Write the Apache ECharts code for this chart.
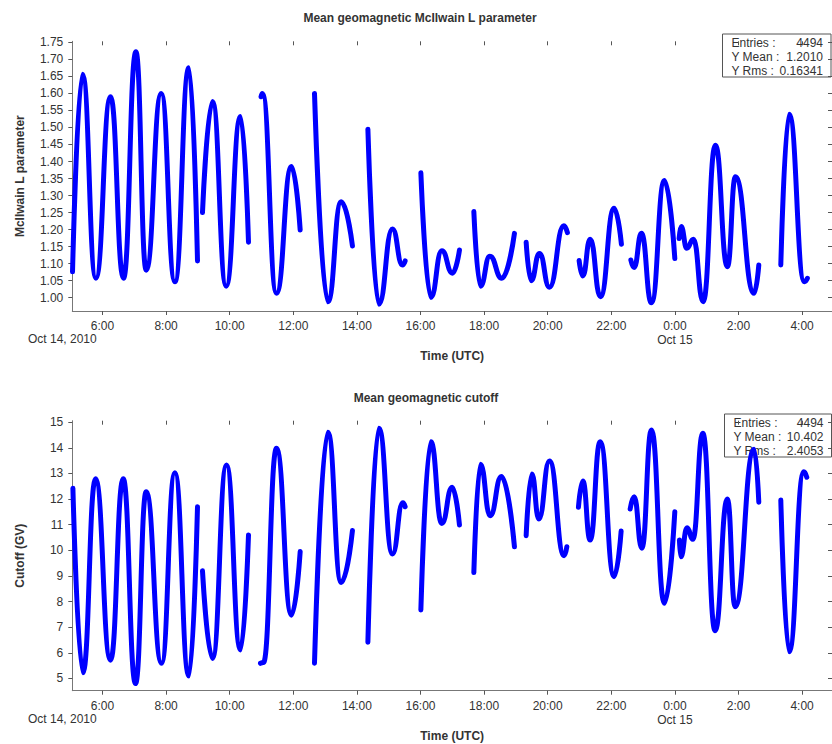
<!DOCTYPE html>
<html><head><meta charset="utf-8">
<script src="https://cdn.jsdelivr.net/npm/echarts@6/dist/echarts.min.js"></script>
<style>html,body{margin:0;padding:0;background:#fff}#c{width:832px;height:744px}</style>
</head><body><div id="c"></div>
<script>
const FONT = '"Liberation Sans", Arial, sans-serif';

// tick positions (hours since Oct 14, 2010 00:00 UTC)
const hourTicks = [6, 8, 10, 12, 14, 16, 18, 20, 22, 24, 26, 28];
const lTicks = [1.00, 1.05, 1.10, 1.15, 1.20, 1.25, 1.30, 1.35, 1.40, 1.45, 1.50, 1.55, 1.60, 1.65, 1.70, 1.75];
const cutTicks = [5, 6, 7, 8, 9, 10, 11, 12, 13, 14, 15];

// Mean McIlwain L parameter (null = data gap)
const lTimes = [
  5.057, 5.371, 5.792, 6.252, 6.660, 7.050, 7.374, 7.846, 8.276, 8.717, 8.987, null,
  9.144, 9.459, 9.889, 10.339, 10.591, null,
  10.985, 11.03, 11.471, 11.942, 12.216, null,
  12.666, 13.087, 13.505, 13.860, null,
  14.345, 14.690, 15.118, 15.433, 15.517, null,
  16.011, 16.325, 16.671, 17.005, 17.225, null,
  17.677, 17.885, 18.180, 18.558, 18.954, null,
  19.322, 19.479, 19.740, 20.054, 20.507, 20.620, null,
  20.988, 21.105, 21.334, 21.658, 22.089, 22.318, null,
  22.614, 22.718, 22.947, 23.262, 23.670, 23.997, null,
  24.132, 24.195, 24.374, 24.582, 24.887, 25.274, 25.651, 25.903, 26.491, 26.638, null,
  27.330, 27.591, 28.072, 28.166
];
const lValues = [
  1.076, 1.656, 1.057, 1.590, 1.057, 1.722, 1.081, 1.600, 1.047, 1.675, 1.108, null,
  1.250, 1.576, 1.034, 1.532, 1.163, null,
  1.590, 1.600, 1.013, 1.385, 1.199, null,
  1.600, 0.988, 1.282, 1.152, null,
  1.495, 0.981, 1.202, 1.096, 1.108, null,
  1.367, 1.001, 1.138, 1.072, 1.140, null,
  1.253, 1.034, 1.122, 1.057, 1.189, null,
  1.163, 1.050, 1.130, 1.031, 1.211, 1.191, null,
  1.109, 1.064, 1.172, 1.003, 1.263, 1.157, null,
  1.111, 1.089, 1.189, 0.985, 1.344, 1.115, null,
  1.174, 1.209, 1.145, 1.172, 0.988, 1.448, 1.091, 1.355, 1.013, 1.096, null,
  1.096, 1.539, 1.047, 1.057
];

// Mean geomagnetic cutoff (GV) (null = data gap)
const cutTimes = [
  5.069, 5.384, 5.780, 6.252, 6.651, 7.038, 7.374, 7.855, 8.276, 8.717, 8.987, null,
  9.144, 9.459, 9.899, 10.339, 10.591, null,
  10.968, 11.062, 11.471, 11.942, 12.216, null,
  12.666, 13.087, 13.505, 13.860, null,
  14.345, 14.690, 15.118, 15.445, 15.517, null,
  16.011, 16.325, 16.671, 16.995, 17.225, null,
  17.677, 17.885, 18.190, 18.545, 18.954, null,
  19.322, 19.501, 19.721, 20.054, 20.517, 20.602, null,
  20.966, 21.105, 21.334, 21.649, 22.089, 22.309, null,
  22.592, 22.718, 22.960, 23.262, 23.670, 23.997, null,
  24.142, 24.186, 24.384, 24.563, 24.877, 25.264, 25.651, 25.893, 26.491, 26.638, null,
  27.330, 27.591, 28.053, 28.148
];
const cutValues = [
  12.42, 5.22, 12.79, 5.71, 12.79, 4.80, 12.29, 5.59, 13.03, 5.09, 11.70, null,
  9.20, 5.78, 13.33, 6.11, 10.60, null,
  5.59, 5.62, 13.98, 7.47, 9.95, null,
  5.59, 14.61, 8.74, 10.77, null,
  6.41, 14.77, 9.86, 11.86, 11.70, null,
  7.67, 14.24, 11.05, 12.46, 10.99, null,
  9.13, 13.36, 11.35, 12.88, 10.14, null,
  10.57, 12.98, 11.22, 13.49, 9.79, 10.14, null,
  11.68, 12.71, 10.40, 14.24, 8.97, 10.75, null,
  11.61, 12.09, 10.08, 14.70, 7.93, 11.51, null,
  10.40, 9.75, 10.88, 10.43, 14.57, 6.86, 12.00, 7.80, 13.95, 11.88, null,
  11.96, 6.04, 13.07, 12.85
];

const statLabels = ['Entries :', 'Y Mean :', 'Y Rms :'];
const lStats = ['4494', '1.2010', '0.16341'];
const cutStats = ['4494', '10.402', '2.4053'];

const X_MIN = 5.05, X_MAX = 28.94;

function segSeries(times, values, gi) {
  const out = [];
  let cur = [];
  const push = () => {
    if (cur.length) {
      out.push({
        type: 'line', xAxisIndex: gi * 2, yAxisIndex: gi * 2, data: cur,
        smooth: 0.5, smoothMonotone: 'x', symbol: 'none', showSymbol: false,
        lineStyle: { color: '#0000ff', width: 5, cap: 'round', join: 'round' },
        silent: true, animation: false, z: 3
      });
    }
    cur = [];
  };
  for (let i = 0; i < times.length; i++) {
    if (times[i] === null || values[i] === null) push();
    else cur.push([times[i], values[i]]);
  }
  push();
  return out;
}

function hourLabel(v) {
  const h = Math.round(v) % 24;
  if (Math.round(v) === 24) return h + ':00\nOct 15';
  return h + ':00';
}

function xAxes(gi) {
  return [{
    type: 'value', gridIndex: gi, min: X_MIN, max: X_MAX,
    axisLine: { onZero: false, lineStyle: { color: '#777', width: 1 } },
    axisTick: { customValues: hourTicks, length: 4, lineStyle: { color: '#555' } },
    axisLabel: { customValues: hourTicks, formatter: hourLabel, color: '#333', fontSize: 12, fontFamily: FONT, margin: 8, lineHeight: 14 },
    splitLine: { show: false },
    name: 'Time (UTC)', nameLocation: 'middle', nameGap: 39,
    nameTextStyle: { fontWeight: 'bold', fontSize: 12, color: '#333', fontFamily: FONT }
  }, {
    type: 'value', gridIndex: gi, min: X_MIN, max: X_MAX,
    axisLine: { show: false },
    axisTick: { customValues: hourTicks, inside: true, length: 4, lineStyle: { color: '#555' } },
    axisLabel: { show: false }, splitLine: { show: false }
  }];
}

function yAxes(gi, min, max, ticks, dec, name) {
  return [{
    type: 'value', gridIndex: gi, min: min, max: max,
    axisLine: { onZero: false, show: true, lineStyle: { color: '#777', width: 1 } },
    axisTick: { show: true, customValues: ticks, length: 4, lineStyle: { color: '#555' } },
    axisLabel: { customValues: ticks, formatter: v => v.toFixed(dec), color: '#333', fontSize: 12, fontFamily: FONT, margin: 9 },
    splitLine: { show: false },
    name: name, nameLocation: 'middle', nameGap: 46, nameRotate: 90,
    nameTextStyle: { fontWeight: 'bold', fontSize: 12, color: '#333', fontFamily: FONT }
  }, {
    type: 'value', gridIndex: gi, min: min, max: max,
    axisLine: { show: false },
    axisTick: { show: true, customValues: ticks, inside: true, length: 4, lineStyle: { color: '#555' } },
    axisLabel: { show: false }, splitLine: { show: false }
  }];
}

function statBox(x, y, w, h, stats) {
  const children = [{
    type: 'rect', shape: { x: x, y: y, width: w, height: h },
    style: { fill: '#fff', stroke: '#555', lineWidth: 1 }
  }];
  for (let i = 0; i < 3; i++) {
    const ty = y + 8.5 + i * 14;
    children.push({ type: 'text', x: x + 9, y: ty, style: { text: statLabels[i], fill: '#333', font: '12px ' + FONT, textVerticalAlign: 'middle', textAlign: 'left' } });
    children.push({ type: 'text', x: x + w - 8, y: ty, style: { text: stats[i], fill: '#333', font: '12px ' + FONT, textVerticalAlign: 'middle', textAlign: 'right' } });
  }
  return { type: 'group', z: 0, children: children };
}

const chart = echarts.init(document.getElementById('c'), null, { renderer: 'svg', width: 832, height: 744 });
chart.setOption({
  animation: false,
  backgroundColor: '#fff',
  grid: [
    { left: 72.3, top: 41.3, width: 759.7, height: 269.7 },
    { left: 72.3, top: 420.7, width: 759.7, height: 270 }
  ],
  xAxis: [...xAxes(0), ...xAxes(1)],
  yAxis: [
    ...yAxes(0, 0.961, 1.753, lTicks, 2, 'McIlwain L parameter'),
    ...yAxes(1, 4.52, 15.06, cutTicks, 0, 'Cutoff (GV)')
  ],
  graphic: [
    { type: 'text', x: 420, y: 18, style: { text: 'Mean geomagnetic McIlwain L parameter', fill: '#333', font: 'bold 12px ' + FONT, textAlign: 'center', textVerticalAlign: 'middle' } },
    { type: 'text', x: 426, y: 398, style: { text: 'Mean geomagnetic cutoff', fill: '#333', font: 'bold 12px ' + FONT, textAlign: 'center', textVerticalAlign: 'middle' } },
    { type: 'text', x: 28, y: 339, style: { text: 'Oct 14, 2010', fill: '#333', font: '12px ' + FONT, textAlign: 'left', textVerticalAlign: 'middle' } },
    { type: 'text', x: 28, y: 719, style: { text: 'Oct 14, 2010', fill: '#333', font: '12px ' + FONT, textAlign: 'left', textVerticalAlign: 'middle' } },
    statBox(722.5, 34, 108.5, 43, lStats),
    statBox(724.5, 414, 107, 43, cutStats)
  ],
  series: [...segSeries(lTimes, lValues, 0), ...segSeries(cutTimes, cutValues, 1)]
});
</script>
</body></html>
